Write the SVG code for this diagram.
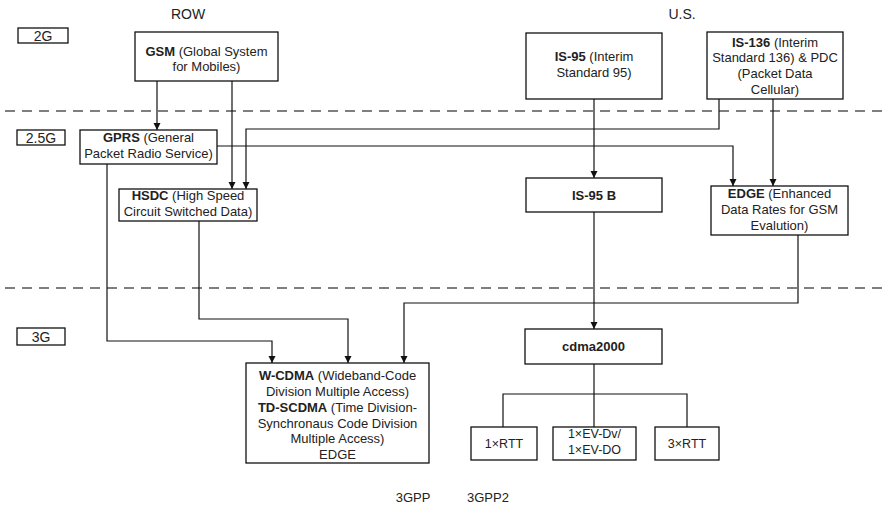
<svg xmlns="http://www.w3.org/2000/svg" width="887" height="508" viewBox="0 0 887 508">
<defs>
<marker id="arr" markerUnits="userSpaceOnUse" markerWidth="8" markerHeight="8" refX="7" refY="3.5" orient="auto">
<path d="M0,0 L7,3.5 L0,7 Z" fill="#111"/>
</marker>
<style>
.box{fill:#fff;stroke:#111;stroke-width:1.3}
.t{font-family:"Liberation Sans",Arial,sans-serif;font-size:13px;fill:#222;text-anchor:middle}
.s{font-size:12.5px}
.lab{font-family:"Liberation Sans",Arial,sans-serif;font-size:14px;fill:#222;text-anchor:middle}
.b{font-weight:bold}
.c{fill:none;stroke:#111;stroke-width:1.2}
.dash{fill:none;stroke:#555;stroke-width:1.4;stroke-dasharray:10 7}
</style>
</defs>
<rect width="887" height="508" fill="#fff"/>
<g id="separators">
<line class="dash" x1="5" y1="111" x2="887" y2="111"/>
<line class="dash" x1="5" y1="288" x2="887" y2="288"/>
</g>
<g id="labels">
<rect class="box" x="18" y="28" width="50" height="15"/>
<text class="lab" x="43" y="41">2G</text>
<rect class="box" x="17" y="130" width="48" height="15"/>
<text class="lab" x="41" y="143">2.5G</text>
<rect class="box" x="17" y="328" width="48" height="17"/>
<text class="lab" x="41" y="342">3G</text>
<text class="lab" x="188" y="19">ROW</text>
<text class="lab" x="682" y="19">U.S.</text>
<text class="t" x="413" y="502">3GPP</text>
<text class="t" x="488" y="502">3GPP2</text>
</g>
<g id="connectors">
<path class="c" d="M157,81 V130" marker-end="url(#arr)"/>
<path class="c" d="M232,81 V189" marker-end="url(#arr)"/>
<path class="c" d="M719,99 V129 H246 V189" marker-end="url(#arr)"/>
<path class="c" d="M217,146 H733 V186" marker-end="url(#arr)"/>
<path class="c" d="M773,99 V186" marker-end="url(#arr)"/>
<path class="c" d="M594,99 V178" marker-end="url(#arr)"/>
<path class="c" d="M107,164 V341 H272 V363" marker-end="url(#arr)"/>
<path class="c" d="M199,221 V319 H348 V363" marker-end="url(#arr)"/>
<path class="c" d="M798,235 V303 H404 V363" marker-end="url(#arr)"/>
<path class="c" d="M594,212 V329" marker-end="url(#arr)"/>
<path class="c" d="M594,364 V427"/>
<path class="c" d="M503,427 V394 H687 V427"/>
</g>
<g id="gsm">
<rect class="box" x="135" y="32" width="143" height="49"/>
<text class="t" x="206.5" y="56"><tspan class="b">GSM</tspan> (Global System</text>
<text class="t" x="206.5" y="71">for Mobiles)</text>
</g>
<g id="is95">
<rect class="box" x="526" y="33" width="136" height="66"/>
<text class="t" x="594" y="61"><tspan class="b">IS-95</tspan> (Interim</text>
<text class="t" x="594" y="77">Standard 95)</text>
</g>
<g id="is136">
<rect class="box" x="707" y="32" width="136" height="67"/>
<text class="t" x="775" y="47"><tspan class="b">IS-136</tspan> (Interim</text>
<text class="t" x="775" y="62">Standard 136) &amp; PDC</text>
<text class="t" x="775" y="78">(Packet Data</text>
<text class="t" x="775" y="94">Cellular)</text>
</g>
<g id="gprs">
<rect class="box" x="80" y="130" width="137" height="34"/>
<text class="t" x="148.5" y="142"><tspan class="b">GPRS</tspan> (General</text>
<text class="t" x="148.5" y="158">Packet Radio Service)</text>
</g>
<g id="hsdc">
<rect class="box" x="119" y="189" width="138" height="32"/>
<text class="t" x="188" y="200"><tspan class="b">HSDC</tspan> (High Speed</text>
<text class="t" x="188" y="216">Circuit Switched Data)</text>
</g>
<g id="is95b">
<rect class="box" x="526" y="178" width="136" height="34"/>
<text class="t b" x="594" y="200">IS-95 B</text>
</g>
<g id="edge">
<rect class="box" x="711" y="186" width="137" height="49"/>
<text class="t" x="779.5" y="198"><tspan class="b">EDGE</tspan> (Enhanced</text>
<text class="t" x="779.5" y="214">Data Rates for GSM</text>
<text class="t" x="779.5" y="230">Evalution)</text>
</g>
<g id="wcdma">
<rect class="box" x="246" y="363" width="183" height="100"/>
<text class="t" x="337.5" y="380"><tspan class="b">W-CDMA</tspan> (Wideband-Code</text>
<text class="t" x="337.5" y="396">Division Multiple Access)</text>
<text class="t" x="337.5" y="412"><tspan class="b">TD-SCDMA</tspan> (Time Division-</text>
<text class="t" x="337.5" y="428">Synchronaus Code Division</text>
<text class="t" x="337.5" y="443">Multiple Access)</text>
<text class="t" x="337.5" y="459">EDGE</text>
</g>
<g id="cdma2000">
<rect class="box" x="525" y="329" width="137" height="35"/>
<text class="t b" x="593.5" y="351">cdma2000</text>
</g>
<g id="rtt1">
<rect class="box" x="471" y="427" width="66" height="33"/>
<text class="t s" x="504" y="448">1×RTT</text>
</g>
<g id="evdo">
<rect class="box" x="553" y="427" width="83" height="33"/>
<text class="t s" x="594.5" y="438">1×EV-Dv/</text>
<text class="t s" x="594.5" y="454">1×EV-DO</text>
</g>
<g id="rtt3">
<rect class="box" x="655" y="427" width="64" height="33"/>
<text class="t s" x="687" y="448">3×RTT</text>
</g>
</svg>
